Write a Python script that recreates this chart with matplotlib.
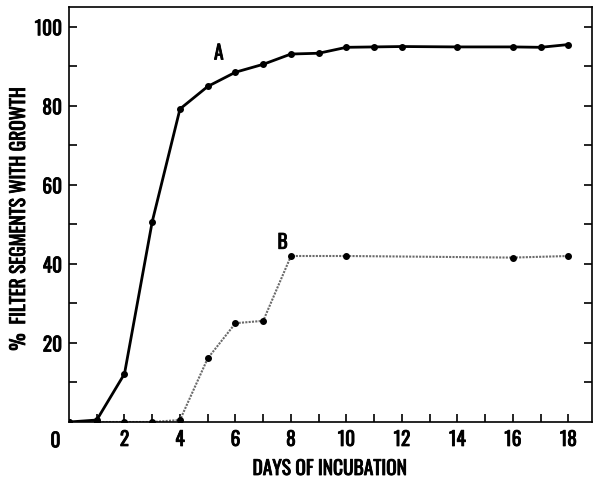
import numpy as np
import matplotlib.pyplot as plt
import matplotlib.patheffects as pe

# curve A
days_a = [0, 1, 2, 3, 4, 5, 6, 7, 8, 9, 10, 11, 12, 14, 16, 17, 18]
pct_a = [0, 0.5, 12.2, 50.7, 79.2, 84.9, 88.5, 90.5, 93.1, 93.3, 94.8, 94.9, 95.0, 94.9, 94.9, 94.8, 95.5]

# curve B
days_b = [0, 1, 2, 3, 4, 5, 6, 7, 8, 10, 16, 18]
pct_b = [0, 0, 0, 0, 0.5, 16.1, 25.0, 25.6, 42.0, 42.0, 41.6, 42.0]

xticks = [2, 4, 6, 8, 10, 12, 14, 16, 18]
yticks = [20, 40, 60, 80, 100]

narrow = ["Oswald", "Roboto Condensed", "Archivo Narrow", "PT Sans Narrow", "DejaVu Sans"]
bold = [pe.withStroke(linewidth=0.6, foreground="black")]
font = dict(family=narrow, fontweight="bold", path_effects=bold)

fig = plt.figure(figsize=(6, 4.8), dpi=100)
ax = fig.add_axes([69 / 600, 1 - 422 / 480, (592 - 69) / 600, (422 - 7) / 480])

ax.plot(days_b, pct_b, color="#6a6a6a", lw=1.5, ls=(0, (1, 0.6)),
        marker="o", ms=4, mfc="black", mec="black", zorder=2)
ax.plot(days_a, pct_a, color="black", lw=2, marker="o", ms=4, zorder=3)

ax.text(5.4, 93.5, "A", fontsize=14, ha="center", va="center", **font)
ax.text(7.7, 45.6, "B", fontsize=14, ha="center", va="center", **font)

ax.set_xlim(0, 18.85)
ax.set_ylim(0, 105)

ax.set_xticks(np.arange(1, 19))
ax.set_xticklabels([str(t) if t in xticks else "" for t in range(1, 19)], fontsize=14, **font)
ax.set_yticks(np.arange(10, 101, 10))
ax.set_yticklabels([str(t) if t in yticks else "" for t in range(10, 101, 10)], fontsize=14, **font)
ax.tick_params(axis="x", direction="in", length=6, width=1.2, pad=5)
ax.tick_params(axis="y", direction="in", length=6, width=1.2, pad=5, right=True)
ax.text(-0.026, -0.02, "0", transform=ax.transAxes, fontsize=14, ha="center", va="top", **font)

for s in ax.spines.values():
    s.set_linewidth(1.2)

ax.set_xlabel("DAYS OF INCUBATION", fontsize=14, **font)
ax.xaxis.set_label_coords((330 - 69) / 523, -(458 - 422) / 415)
ax.set_ylabel("%  FILTER SEGMENTS WITH GROWTH", fontsize=14, **font)
ax.yaxis.set_label_coords(-(69 - 28) / 523, 0.49)

fig.savefig("out.png", dpi=100)
